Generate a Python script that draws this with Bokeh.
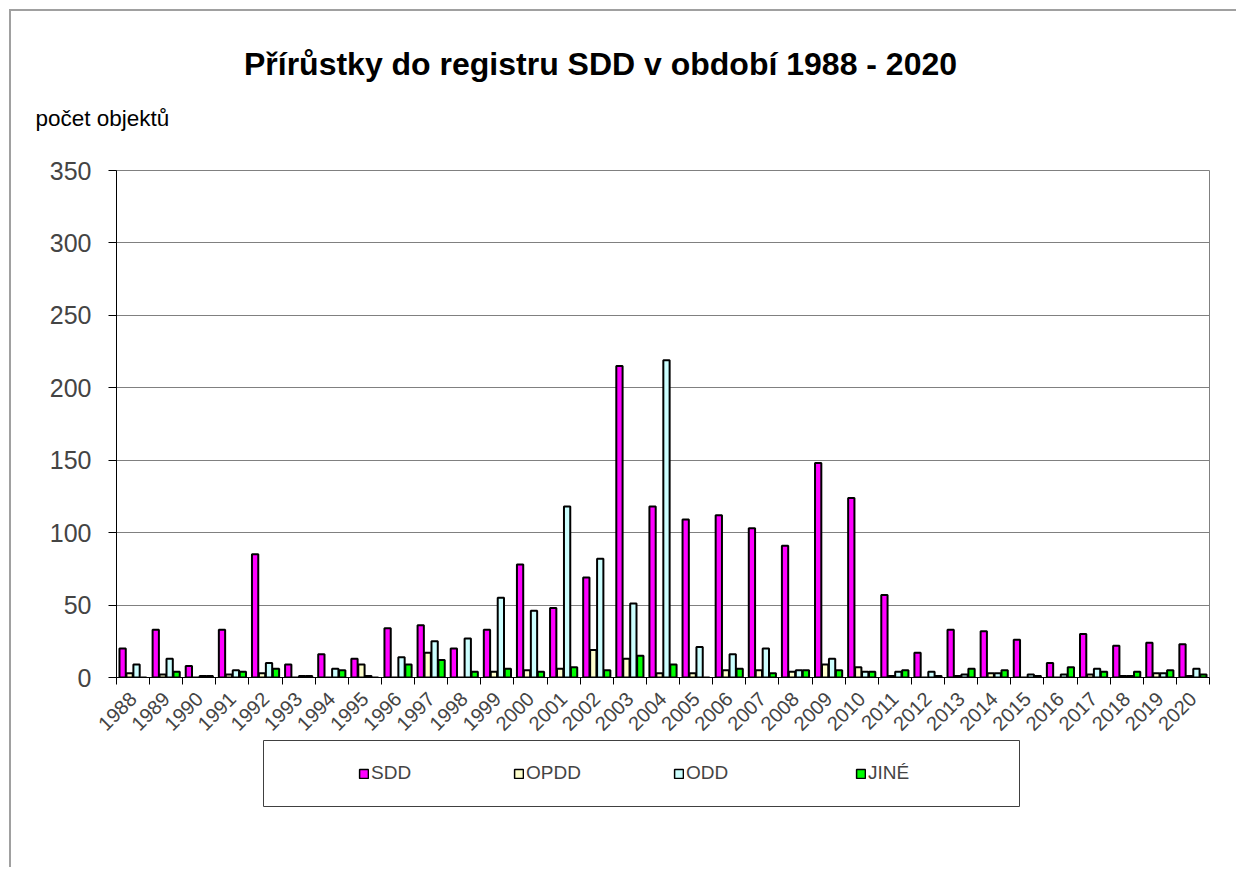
import numpy as np
from bokeh.plotting import figure
from bokeh.models import (Range1d, FixedTicker, Label, Legend, LegendItem, Spacer,
                          Column, Row, ColumnDataSource)
from bokeh.embed import file_html
from bokeh.resources import INLINE
from math import pi

years = ["1988", "1989", "1990", "1991", "1992", "1993", "1994", "1995", "1996", "1997",
         "1998", "1999", "2000", "2001", "2002", "2003", "2004", "2005", "2006", "2007",
         "2008", "2009", "2010", "2011", "2012", "2013", "2014", "2015", "2016", "2017",
         "2018", "2019", "2020"]
sdd = [20, 33, 8, 33, 85, 9, 16, 13, 34, 36, 20, 33, 78, 48, 69, 215, 118, 109, 112, 103,
       91, 148, 124, 57, 17, 33, 32, 26, 10, 30, 22, 24, 23]
opdd = [3, 2, 0, 2, 3, 0, 0, 9, 0, 17, 0, 4, 5, 6, 19, 13, 3, 3, 5, 5,
        4, 9, 7, 1, 0, 1, 3, 0, 0, 2, 1, 3, 1]
odd = [9, 13, 1, 5, 10, 1, 6, 1, 14, 25, 27, 55, 46, 118, 82, 51, 219, 21, 16, 20,
       5, 13, 4, 4, 4, 2, 3, 2, 2, 6, 1, 3, 6]
jine = [0, 4, 1, 4, 6, 1, 5, 0, 9, 12, 4, 6, 4, 7, 5, 15, 9, 0, 6, 3,
        5, 5, 4, 5, 1, 6, 5, 1, 7, 4, 4, 5, 2]

series_names = ["SDD", "OPDD", "ODD", "JINÉ"]
series_values = [sdd, opdd, odd, jine]
series_colors = ["#FF00FF", "#FFFFCC", "#CCFFFF", "#00FF00"]
offsets = [-0.315, -0.105, 0.105, 0.315]

FONT = "Liberation Sans"
idx = np.arange(len(years))

# ---- header (title + y-axis caption) ----
hdr = figure(width=1225, height=147, min_border=0, x_range=Range1d(0, 1225),
             y_range=Range1d(0, 147), output_backend="svg", toolbar_location=None)
hdr.axis.visible = False
hdr.grid.visible = False
hdr.outline_line_color = None
hdr.add_layout(Label(x=589, y=95, x_units="screen", y_units="screen",
                     text="Přírůstky do registru SDD v období 1988 - 2020",
                     text_font=FONT, text_font_size="32px", text_font_style="bold",
                     text_align="center", text_baseline="middle", text_color="black"))
hdr.add_layout(Label(x=24, y=40, x_units="screen", y_units="screen", text="počet objektů",
                     text_font=FONT, text_font_size="22.5px", text_align="left",
                     text_baseline="middle", text_color="black"))

# ---- main chart ----
p = figure(frame_width=1093, frame_height=507, min_border_left=105, min_border_top=12,
           min_border_right=20, min_border_bottom=58,
           x_range=Range1d(-0.5, len(years) - 0.5), y_range=Range1d(0, 350),
           output_backend="svg", toolbar_location=None)
p.outline_line_color = "#808080"
p.outline_line_width = 1

for name, vals, col, off in zip(series_names, series_values, series_colors, offsets):
    src = ColumnDataSource(dict(x=idx + off, top=vals))
    p.vbar(x="x", top="top", width=0.19, source=src, fill_color=col,
           line_color="black", line_width=2)

p.xgrid.visible = False
p.ygrid.grid_line_color = "#808080"
p.ygrid.grid_line_width = 1
p.yaxis.ticker = FixedTicker(ticks=list(range(0, 351, 50)))
p.yaxis.major_tick_out = 8
p.yaxis.major_tick_in = 0
p.yaxis.minor_tick_out = 0
p.yaxis.minor_tick_in = 0
p.yaxis.major_label_standoff = 17
p.yaxis.major_label_text_font = FONT
p.yaxis.major_label_text_font_size = "25px"
p.yaxis.axis_line_color = "black"

p.xaxis.ticker = FixedTicker(ticks=list(range(len(years))),
                             minor_ticks=[i - 0.5 for i in range(len(years) + 1)])
p.xaxis.major_label_overrides = {i: y for i, y in enumerate(years)}
p.xaxis.major_tick_out = 0
p.xaxis.major_tick_in = 0
p.xaxis.minor_tick_out = 7
p.xaxis.minor_tick_in = 0
p.xaxis.major_label_orientation = pi / 4
p.xaxis.major_label_standoff = 11
p.xaxis.major_label_text_font = FONT
p.xaxis.major_label_text_font_size = "20px"
p.xaxis.axis_line_color = "black"

# ---- legend box ----
lg = figure(width=1010, height=68, min_border_left=252, min_border_right=2,
            min_border_top=1, min_border_bottom=1,
            x_range=Range1d(0, 1), y_range=Range1d(0, 1),
            output_backend="svg", toolbar_location=None)
lg.axis.visible = False
lg.grid.visible = False
lg.outline_line_color = "#404040"
lg.outline_line_width = 1
leg_x = [95, 250, 410, 592]
for name, col, lx in zip(series_names, series_colors, leg_x):
    # legend-only sample renderer: NaN height, so nothing is drawn in the box
    r = lg.vbar(x=[0.5], top=[float("nan")], bottom=[0], width=0.1, fill_color=col,
                line_color="black", line_width=1.5)
    L = Legend(items=[LegendItem(label=name, renderers=[r])], location=(lx, 22),
               padding=0, margin=0, glyph_width=11, glyph_height=11, label_standoff=2,
               label_height=20, label_text_font=FONT, label_text_font_size="19px",
               border_line_alpha=0, background_fill_alpha=0)
    lg.add_layout(L)

layout = Column(Row(hdr), p, Row(lg), Spacer(height=60),
                styles={"margin-left": "9px", "margin-top": "9px",
                        "border-left": "2px solid #a0a0a0", "border-top": "2px solid #a0a0a0"})

open("out.html", "w").write(file_html(layout, INLINE))
